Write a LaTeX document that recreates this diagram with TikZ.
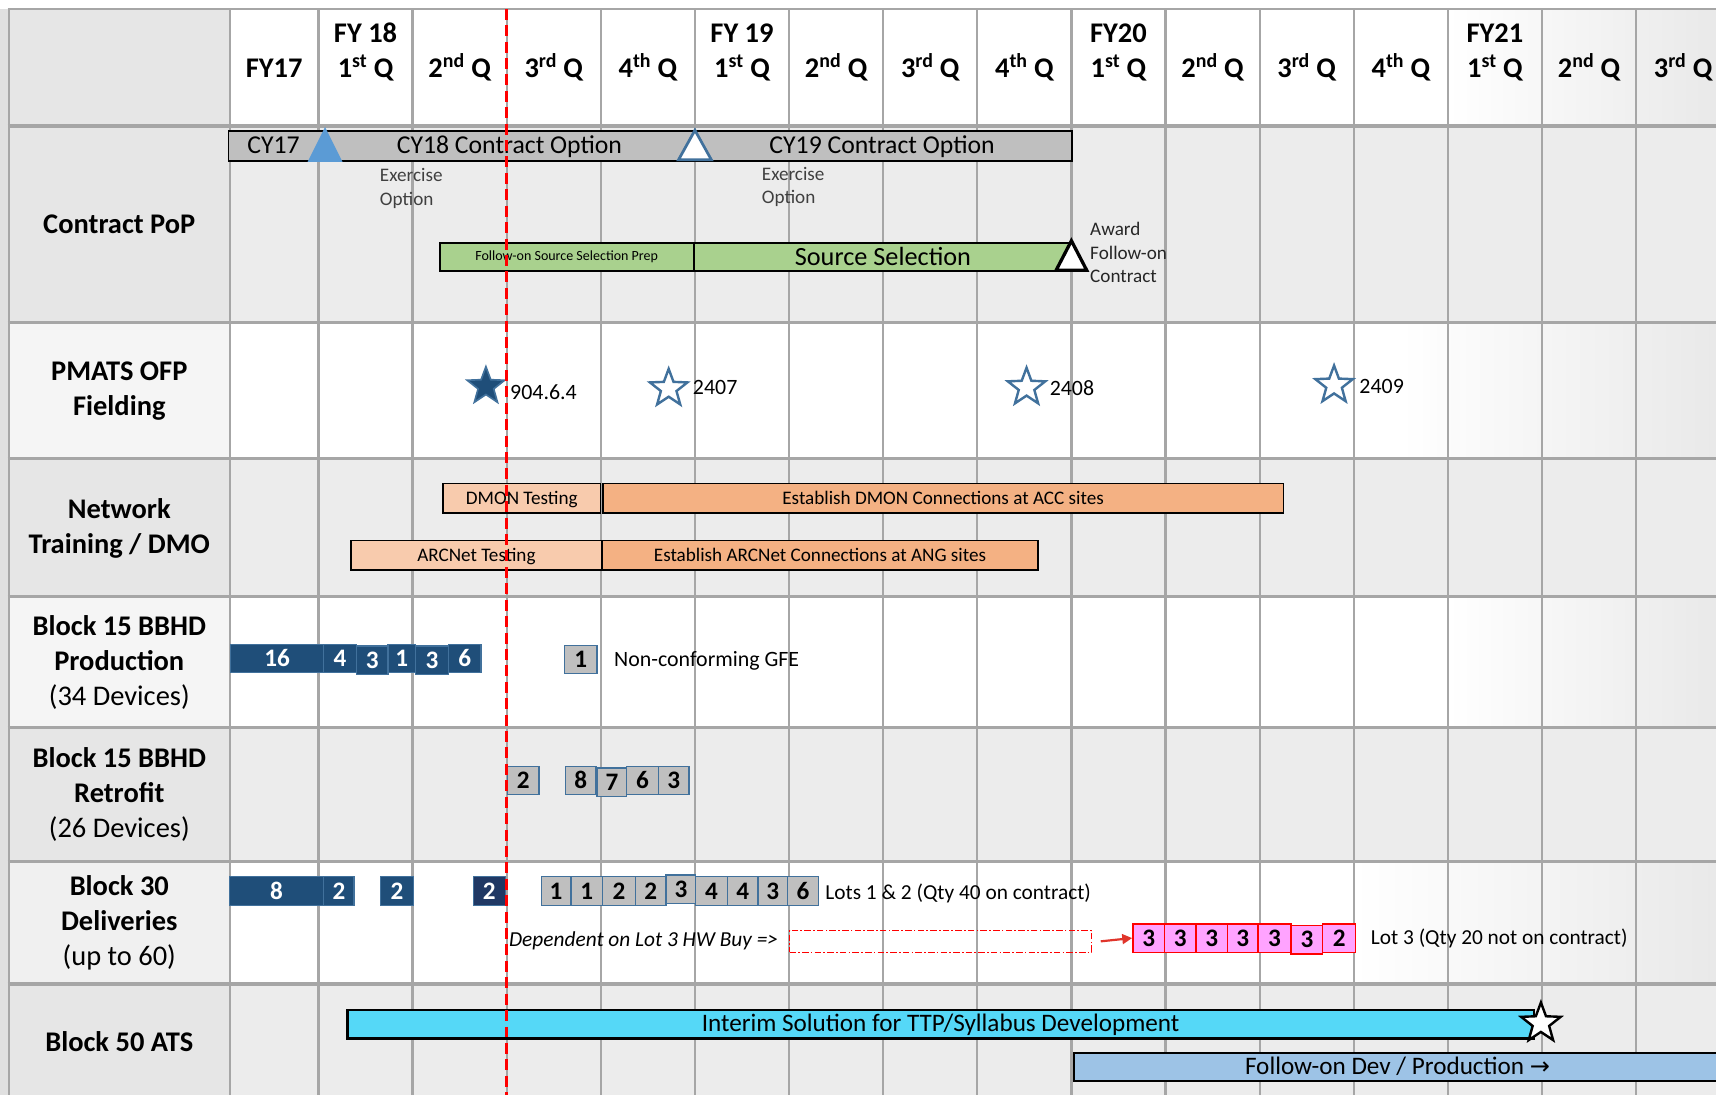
\documentclass[tikz,border=0pt]{standalone}
\usepackage{fontspec}
\setmainfont{Carlito}
\newfontfamily\symf{DejaVu Sans}
\usetikzlibrary{shapes.geometric,arrows.meta}
\definecolor{gridc}{HTML}{A6A6A6}
\definecolor{rowgray}{HTML}{ECECEC}
\definecolor{labgray}{HTML}{E6E6E6}
\definecolor{labwhite}{HTML}{F5F5F5}
\definecolor{photogray}{HTML}{E0E0E0}
\definecolor{photolight}{HTML}{E9E9E9}
\definecolor{barg}{HTML}{BFBFBF}
\definecolor{greenbar}{HTML}{A9D18E}
\definecolor{peachl}{HTML}{F8CBAD}
\definecolor{peachd}{HTML}{F4B183}
\definecolor{navy}{HTML}{1F4E79}
\definecolor{navyd}{HTML}{203864}
\definecolor{steel}{HTML}{41719C}
\definecolor{msblue}{HTML}{5B9BD5}
\definecolor{pinkf}{HTML}{FFA3FF}
\definecolor{cyanbar}{HTML}{55D8F7}
\definecolor{lblue}{HTML}{9DC3E6}
\definecolor{txtgray}{HTML}{404040}
\definecolor{arrred}{HTML}{E0352B}
\newcommand{\fsz}[2]{\fontsize{#1}{#2}\selectfont}
\tikzset{
  gridline/.style={draw=gridc, line width=2pt},
  hline/.style={draw=gridc, line width=3pt},
  hdr/.style={font=\fsz{26}{30}\bfseries, inner sep=0pt, anchor=base},
  rowlab/.style={font=\fsz{26}{32}\bfseries, align=center, inner sep=0pt},
  barbox/.style 2 args={draw=black, line width=1.6pt, inner sep=0pt, anchor=north west, minimum width=#1pt, minimum height=#2pt},
  plain/.style={inner sep=0pt},
  nbox/.style={draw=steel, line width=1.3pt, fill=barg, font=\fsz{23}{26}\bfseries, text=black, inner sep=0pt, anchor=north west, minimum height=26pt, text height=15pt, text depth=0pt, minimum width=#1pt},
  dbox/.style={nbox=#1, fill=navy, text=white},
  pbox/.style={nbox=#1, fill=pinkf, draw=red},
  ostar/.style={star, star points=5, star point ratio=2.4, inner sep=0pt, minimum size=36pt, draw=steel, line width=2.2pt, fill=white},
  nettext/.style={font=\fsz{17.5}{20}, text height=11pt, text depth=0pt},
  small/.style={plain, font=\fsz{17.5}{21.5}, text=txtgray, align=left, anchor=west},
  note/.style={plain, font=\fsz{19.5}{23}, anchor=west},
}
\begin{document}
\begin{tikzpicture}[x=1pt,y=-1pt]
\useasboundingbox (0,0) rectangle (1568,1001);
\begin{scope}
\clip (0,0) rectangle (1568,1001);
% backgrounds
\fill[white] (0,0) rectangle (1568,1001);
\fill[photogray] (0,8) rectangle (8,1001);
\fill[labgray] (8,8) rectangle (210,295);
\fill[labwhite] (8,295) rectangle (210,419);
\fill[labgray] (8,419) rectangle (210,545);
\fill[labwhite] (8,545) rectangle (210,665);
\fill[labgray] (8,665) rectangle (210,787);
\fill[labgray!60!white] (8,787) rectangle (210,899);
\fill[labgray] (8,899) rectangle (210,1001);
\fill[rowgray] (210,115) rectangle (1568,295);
\fill[rowgray] (210,419) rectangle (1568,545);
\fill[rowgray] (210,665) rectangle (1568,787);
\fill[rowgray] (210,899) rectangle (1568,1001);
\shade[left color=white, right color=photolight] (1323,8) rectangle (1568,115);
\shade[left color=white, right color=photolight] (1280,295) rectangle (1568,419);
\shade[left color=white, right color=photolight] (1323,545) rectangle (1568,665);
\shade[left color=white, right color=photolight] (1237,787) rectangle (1568,899);
% grid
\foreach \x in {210,291,377,463,549,635,721,807,893,979,1065,1151,1237,1323,1409,1495}
  \draw[gridline] (\x,8) -- (\x,1001);
\draw[gridline] (8,8) -- (8,1001);
\draw[gridline] (7,8) -- (1568,8);
\draw[draw=gridc, line width=4pt] (7,115) -- (1568,115);
\foreach \y in {295,419,545,665,787,899}
  \draw[hline] (7,\y) -- (1568,\y);

% header
\node[hdr] (h0) at (250.5,71) {FY17};
\node[hdr] (fy18) at (334,39) {FY 18};
\node[hdr] (q1) at (334,71) {1\textsuperscript{st} Q};
\node[hdr] (q2) at (420,71) {2\textsuperscript{nd} Q};
\node[hdr] (q3) at (506,71) {3\textsuperscript{rd} Q};
\node[hdr] (q4) at (592,71) {4\textsuperscript{th} Q};
\node[hdr] (fy19) at (678,39) {FY 19};
\node[hdr] (q5) at (678,71) {1\textsuperscript{st} Q};
\node[hdr] (q6) at (764,71) {2\textsuperscript{nd} Q};
\node[hdr] (q7) at (850,71) {3\textsuperscript{rd} Q};
\node[hdr] (q8) at (936,71) {4\textsuperscript{th} Q};
\node[hdr] (fy20) at (1022,39) {FY20};
\node[hdr] (q9) at (1022,71) {1\textsuperscript{st} Q};
\node[hdr] (q10) at (1108,71) {2\textsuperscript{nd} Q};
\node[hdr] (q11) at (1194,71) {3\textsuperscript{rd} Q};
\node[hdr] (q12) at (1280,71) {4\textsuperscript{th} Q};
\node[hdr] (fy21) at (1366,39) {FY21};
\node[hdr] (q13) at (1366,71) {1\textsuperscript{st} Q};
\node[hdr] (q14) at (1452,71) {2\textsuperscript{nd} Q};
\node[hdr] (q15) at (1538,71) {3\textsuperscript{rd} Q};

% row labels
\node[rowlab] (lab1) at (109,205) {Contract PoP};
\node[rowlab] (lab2) at (109,357) {PMATS OFP\\Fielding};
\node[rowlab] (lab3) at (109,482.5) {Network\\Training / DMO};
\node[rowlab] (lab4) at (109,605) {Block 15 BBHD\\Production\\{\mdseries (34 Devices)}};
\node[rowlab] (lab5) at (109,726) {Block 15 BBHD\\Retrofit\\{\mdseries (26 Devices)}};
\node[rowlab] (lab6) at (109,843) {Block 30\\Deliveries\\{\mdseries (up to 60)}};
\node[rowlab] (lab7) at (109,952) {Block 50 ATS};

% Contract PoP
\node[barbox={771}{27}, fill=barg] (cy) at (208,119) {};
\node[plain, font=\fsz{23.5}{28}, anchor=base] (cy17) at (250,140) {CY17};
\node[plain, font=\fsz{23.5}{28}, anchor=base] (cy18) at (465.5,140) {CY18 Contract Option};
\node[plain, font=\fsz{23.5}{28}, anchor=base] (cy19) at (806,140) {CY19 Contract Option};
\fill[msblue] (281,148) -- (313,148) -- (297,116) -- cycle;
\draw[steel, line width=2.5pt, fill=white] (620,146) -- (650,146) -- (635,119) -- cycle;
\node[small] (ex1) at (347,172) {Exercise\\Option};
\node[small] (ex2) at (696,171) {Exercise\\Option};
\node[barbox={232}{26}, fill=greenbar, font=\fsz{12.8}{15}] (ssp) at (401,221) {Follow-on Source Selection Prep};
\node[barbox={346}{26}, fill=greenbar, font=\fsz{24}{28}] (ss) at (633,221) {Source Selection};
\draw[black, line width=3pt, fill=white] (965,247) -- (993,247) -- (979,220) -- cycle;
\node[small, text=black!85] (award) at (996,231) {Award\\Follow-on\\Contract};

% PMATS
\node[star, star points=5, star point ratio=2.4, minimum size=36pt, inner sep=0pt, fill=navy, draw=steel, line width=1.5pt] (s1) at (444,353) {};
\node[plain, font=\fsz{20}{24}, anchor=west] (t1) at (466,358) {904.6.4};
\node[ostar] (s2) at (611,355) {};
\node[plain, font=\fsz{20}{24}, anchor=west] (t2) at (633,354) {2407};
\node[ostar] (s3) at (938,354) {};
\node[plain, font=\fsz{20}{24}, anchor=west] (t3) at (959,355) {2408};
\node[ostar] (s4) at (1219,352) {};
\node[plain, font=\fsz{20}{24}, anchor=west] (t4) at (1242,353) {2409};

% Network
\node[barbox={144}{27}, fill=peachl, nettext] (dmt) at (404,441) {DMON Testing};
\node[barbox={622}{27}, fill=peachd, nettext] (dmc) at (550,441) {Establish DMON Connections at ACC sites};
\node[barbox={229}{27}, fill=peachl, nettext] (arct) at (320,493) {ARCNet Testing};
\node[barbox={399}{27}, fill=peachd, nettext] (arcc) at (549,493) {Establish ARCNet Connections at ANG sites};

% Block 15 production
\node[dbox=85] (b16) at (210,588) {16};
\node[dbox=30] (b4) at (295,588) {4};
\node[dbox=29] (b3a) at (325,589.5) {3};
\node[dbox=25] (b1) at (354,588) {1};
\node[dbox=30] (b3b) at (379,589.5) {3};
\node[dbox=30] (b6) at (409,588) {6};
\node[nbox=30] (g1) at (515,589) {1};
\node[plain, font=\fsz{20}{24}, anchor=west] (gfe) at (561,604) {Non-conforming GFE};

% Block 15 retrofit
\node[nbox=29] (r2) at (463,699.5) {2};
\node[nbox=28] (r8) at (516,699.5) {8};
\node[nbox=27] (r7) at (545,701) {7};
\node[nbox=29] (r6) at (572,699.5) {6};
\node[nbox=28] (r3) at (601,699.5) {3};

% Block 30
\node[dbox=86] (d8) at (209,800.5) {8};
\node[dbox=28] (d2a) at (295,800.5) {2};
\node[dbox=30] (d2b) at (347,800.5) {2};
\node[dbox=29, fill=navyd] (d2c) at (432,800.5) {2};
\node[nbox=27] (l1) at (494,800.5) {1};
\node[nbox=29] (l2) at (521,800.5) {1};
\node[nbox=30] (l3) at (550,800.5) {2};
\node[nbox=28] (l4) at (580,800.5) {2};
\node[nbox=27] (l5) at (608,799) {3};
\node[nbox=29] (l6) at (635,800.5) {4};
\node[nbox=28] (l7) at (664,800.5) {4};
\node[nbox=27] (l8) at (692,800.5) {3};
\node[nbox=28] (l9) at (719,800.5) {6};
\node[note] (lots) at (754,816) {Lots 1 \& 2 (Qty 40 on contract)};
\node[note, font=\fsz{19.5}{23}\itshape] (dept) at (465,860) {Dependent on Lot 3 HW Buy =>};
\node[draw=red, line width=0.8pt, dash pattern=on 6pt off 2pt on 1.5pt off 2pt, minimum width=276pt, minimum height=19.5pt, anchor=north west, inner sep=0pt] (dep) at (721,850) {};
\node[pbox=29] (p1) at (1034.5,843.5) {3};
\node[pbox=28.5] (p2) at (1063.5,843.5) {3};
\node[pbox=29] (p3) at (1092,843.5) {3};
\node[pbox=28] (p4) at (1121,843.5) {3};
\node[pbox=30] (p5) at (1149,843.5) {3};
\node[pbox=29] (p6) at (1179,845) {3};
\node[pbox=30] (p7) at (1208,843.5) {2};
\draw[arrred, line width=2pt, -{Triangle[length=9pt,width=9pt]}] ([xshift=8pt]dep.east) -- (p1.west);
\node[note] (lot3) at (1252.5,857.5) {Lot 3 (Qty 20 not on contract)};

% Block 50
\node[barbox={1084}{26}, fill=cyanbar, font=\fsz{23}{26}, line width=2pt] (ints) at (316.5,922) {Interim Solution for TTP/Syllabus Development};
\node[star, star points=5, star point ratio=2.4, minimum size=38pt, inner sep=0pt, fill=white, draw=black, line width=2.2pt] (ws) at (1408,935) {};
\node[barbox={600}{26}, fill=lblue, line width=2pt] (fod) at (980,961) {};
\node[plain, font=\fsz{23}{26}, anchor=center] (fodt) at (1277,974) {Follow-on Dev / Production {\symf\fsz{22}{26}→}};

% today line
\coordinate (rt) at (463,8);
\coordinate (rb) at (463,1001);
\draw[red, line width=2.4pt, dash pattern=on 10pt off 5pt] (rt) -- (rb);
\end{scope}
\end{tikzpicture}
\end{document}
